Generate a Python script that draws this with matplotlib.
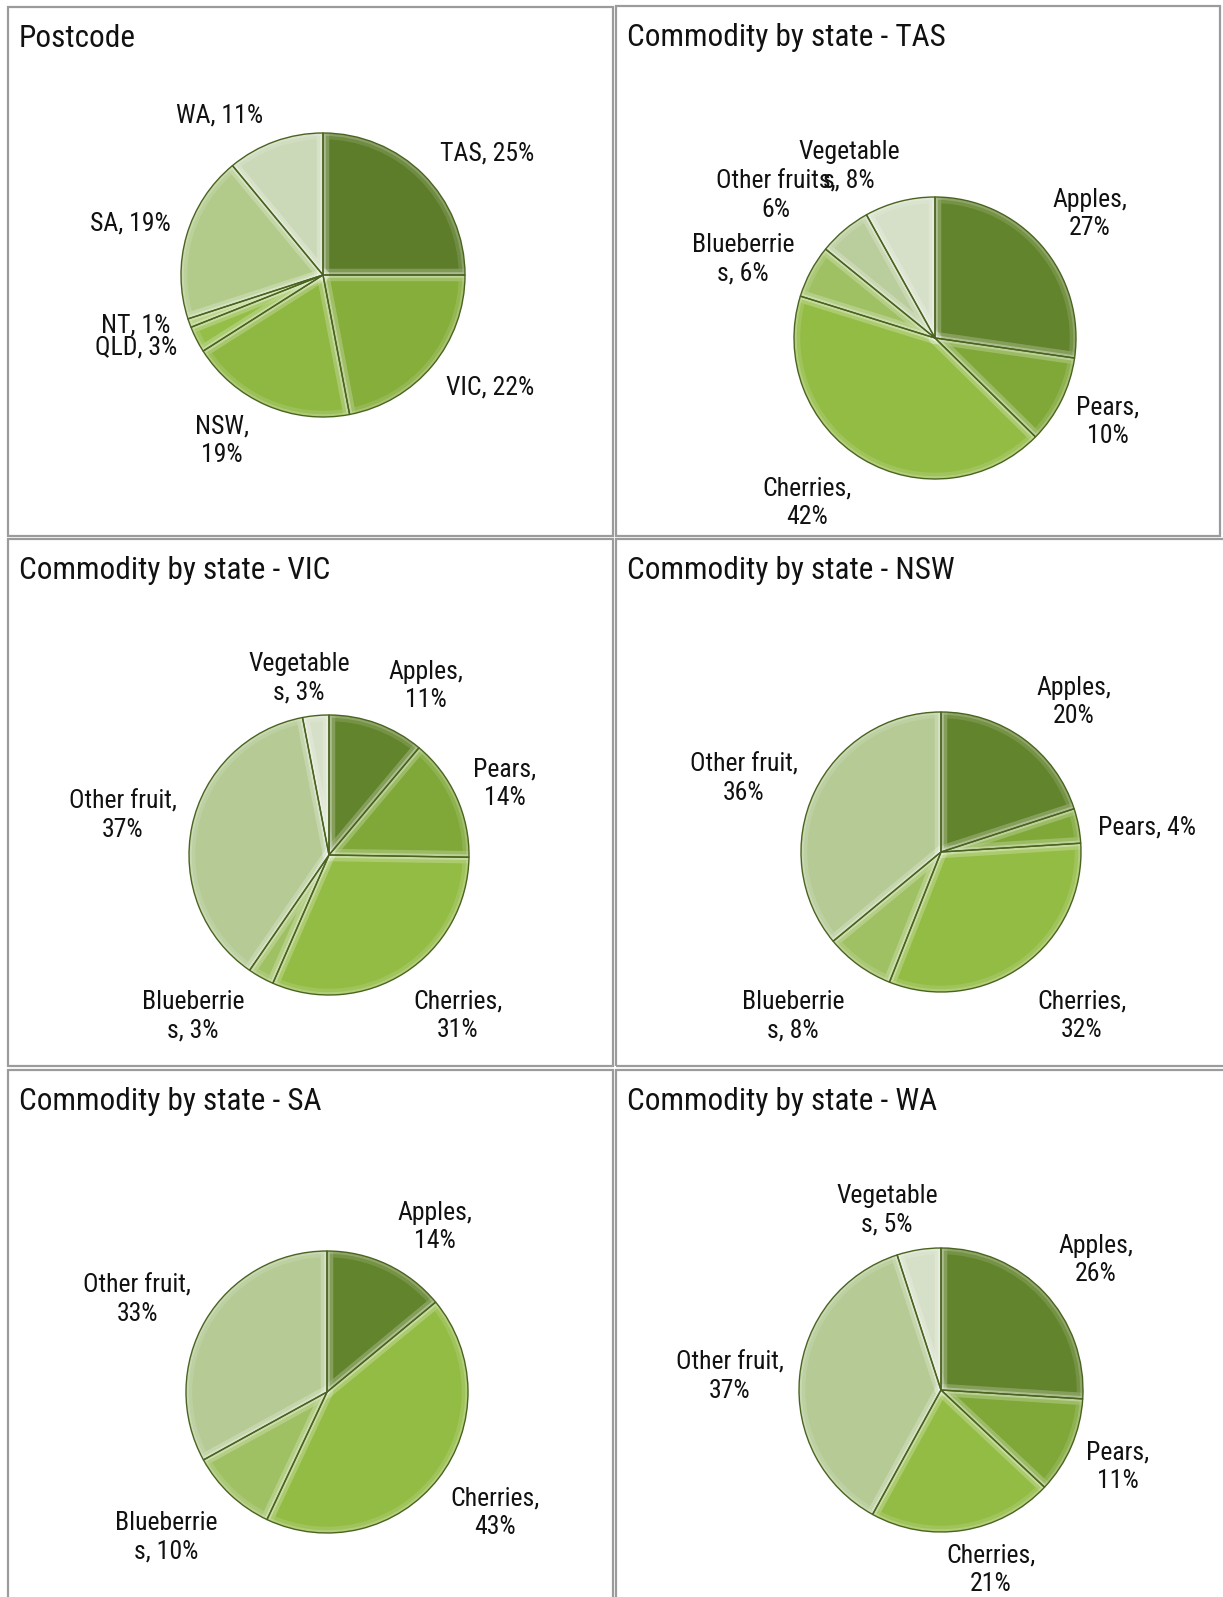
import textwrap

import matplotlib
matplotlib.use("Agg")
import matplotlib.pyplot as plt
from matplotlib import font_manager
from matplotlib.patches import Rectangle

W, H = 1223, 1597

# ---- data -----------------------------------------------------------------
postcode_states = ["TAS", "VIC", "NSW", "QLD", "NT", "SA", "WA"]
postcode_pct = [25, 22, 19, 3, 1, 19, 11]

tas_items = ["Apples", "Pears", "Cherries", "Blueberries", "Other fruits", "Vegetables"]
tas_pct = [27, 10, 42, 6, 6, 8]

vic_items = ["Apples", "Pears", "Cherries", "Blueberries", "Other fruit", "Vegetables"]
vic_pct = [11, 14, 31, 3, 37, 3]

nsw_items = ["Apples", "Pears", "Cherries", "Blueberries", "Other fruit"]
nsw_pct = [20, 4, 32, 8, 36]

sa_items = ["Apples", "Cherries", "Blueberries", "Other fruit"]
sa_pct = [14, 43, 10, 33]

wa_items = ["Apples", "Pears", "Cherries", "Other fruit", "Vegetables"]
wa_pct = [26, 11, 21, 37, 5]

# ---- styling ----------------------------------------------------------------
state_colors = {
    "TAS": "#5d7d2a", "VIC": "#86ae3b", "NSW": "#8fb842", "QLD": "#95be49",
    "NT": "#9dc257", "SA": "#b2cb8b", "WA": "#cbd9b8",
}
item_colors = {
    "Apples": "#62842c", "Pears": "#80a838", "Cherries": "#93bc45",
    "Blueberries": "#9fc163", "Other fruit": "#b5ca94", "Other fruits": "#bacd9c",
    "Vegetables": "#d6e0c8",
}


def pick_font(cands):
    have = {f.name for f in font_manager.fontManager.ttflist}
    for c in cands:
        if c in have:
            return c
    return "DejaVu Sans"


FONT = pick_font(["Liberation Sans Narrow", "Arial Narrow", "Roboto Condensed",
                  "Liberation Sans"])
plt.rcParams["font.family"] = [FONT, "DejaVu Sans"]

# panel frames (image px: x0, y0, x1, y1) and pie placement
panels = [
    dict(title="Postcode", names=postcode_states, vals=postcode_pct, cmap=state_colors,
         frame=(8, 7, 613, 536), center=(323, 275), r=142,
         wrap=[0, 0, 5, 0, 0, 0, 0],
         lab=[(487, 153), (490, 387), (222, 441), (136, 347), (136, 326),
              (130, 223), (220, 115)]),
    dict(title="Commodity by state - TAS", names=tas_items, vals=tas_pct, cmap=item_colors,
         frame=(616, 6, 1220, 536), center=(935, 338), r=141,
         wrap=[8, 7, 10, 10, 13, 9],
         lab=[(1090, 214), (1108, 422), (807, 503), (743, 259), (776, 196), (849, 166)]),
    dict(title="Commodity by state - VIC", names=vic_items, vals=vic_pct, cmap=item_colors,
         frame=(8, 539, 613, 1066), center=(329, 855), r=140,
         wrap=[8, 7, 10, 10, 12, 9],
         lab=[(426, 686), (505, 784), (458, 1016), (193, 1016), (123, 816), (299, 678)]),
    dict(title="Commodity by state - NSW", names=nsw_items, vals=nsw_pct, cmap=item_colors,
         frame=(616, 539, 1226, 1066), center=(941, 852), r=140,
         wrap=[8, 0, 10, 10, 12],
         lab=[(1074, 702), (1147, 827), (1082, 1016), (793, 1016), (744, 779)]),
    dict(title="Commodity by state - SA", names=sa_items, vals=sa_pct, cmap=item_colors,
         frame=(8, 1070, 613, 1602), center=(327, 1392), r=141,
         wrap=[8, 10, 10, 12],
         lab=[(435, 1227), (495, 1513), (166, 1537), (137, 1300)]),
    dict(title="Commodity by state - WA", names=wa_items, vals=wa_pct, cmap=item_colors,
         frame=(616, 1070, 1226, 1602), center=(941, 1390), r=142,
         wrap=[8, 7, 10, 12, 9],
         lab=[(1096, 1260), (1118, 1467), (991, 1570), (730, 1377), (887, 1210)]),
]


def label_text(name, val, width):
    s = f"{name}, {val}%"
    if not width:
        return s
    return textwrap.fill(s, width=width, break_long_words=True)


fig = plt.figure(figsize=(W / 100, H / 100), dpi=100)
ax = fig.add_axes([0, 0, 1, 1])

for p in panels:
    x0, y0, x1, y1 = p["frame"]
    ax.add_patch(Rectangle((x0, H - y1), x1 - x0, y1 - y0, fill=False,
                           edgecolor="#9b9b9b", linewidth=1.6, zorder=0.5))
    ax.text(x0 + 11, H - (y0 + 40), p["title"], fontsize=22.5, ha="left",
            va="baseline", color="#111111")

    cx, cy = p["center"]
    cols = [p["cmap"][n] for n in p["names"]]
    pie_kw = dict(startangle=90, counterclock=False, center=(cx, H - cy),
                  radius=p["r"], frame=True)
    # faces
    ax.pie(p["vals"], colors=cols, wedgeprops=dict(linewidth=0), **pie_kw)
    # soft bevel: wide faint highlight, then a narrower brighter one
    ax.pie(p["vals"], colors=cols,
           wedgeprops=dict(facecolor="none", edgecolor=(1, 1, 1, 0.12), linewidth=9,
                           joinstyle="round"),
           **pie_kw)
    ax.pie(p["vals"], colors=cols,
           wedgeprops=dict(facecolor="none", edgecolor=(1, 1, 1, 0.18), linewidth=4,
                           joinstyle="round"),
           **pie_kw)
    # thin dark seams
    ax.pie(p["vals"], colors=cols,
           wedgeprops=dict(facecolor="none", edgecolor="#4a6420", linewidth=1.0,
                           joinstyle="round"),
           **pie_kw)

    for name, val, w, (lx, ly) in zip(p["names"], p["vals"], p["wrap"], p["lab"]):
        ax.text(lx, H - ly, label_text(name, val, w), fontsize=18.5, ha="center",
                va="center", multialignment="center", linespacing=1.25,
                color="#111111")

ax.set_xlim(0, W)
ax.set_ylim(0, H)
ax.set_aspect("auto")
ax.set_axis_off()

fig.savefig("out.png", dpi=100, facecolor="white")
